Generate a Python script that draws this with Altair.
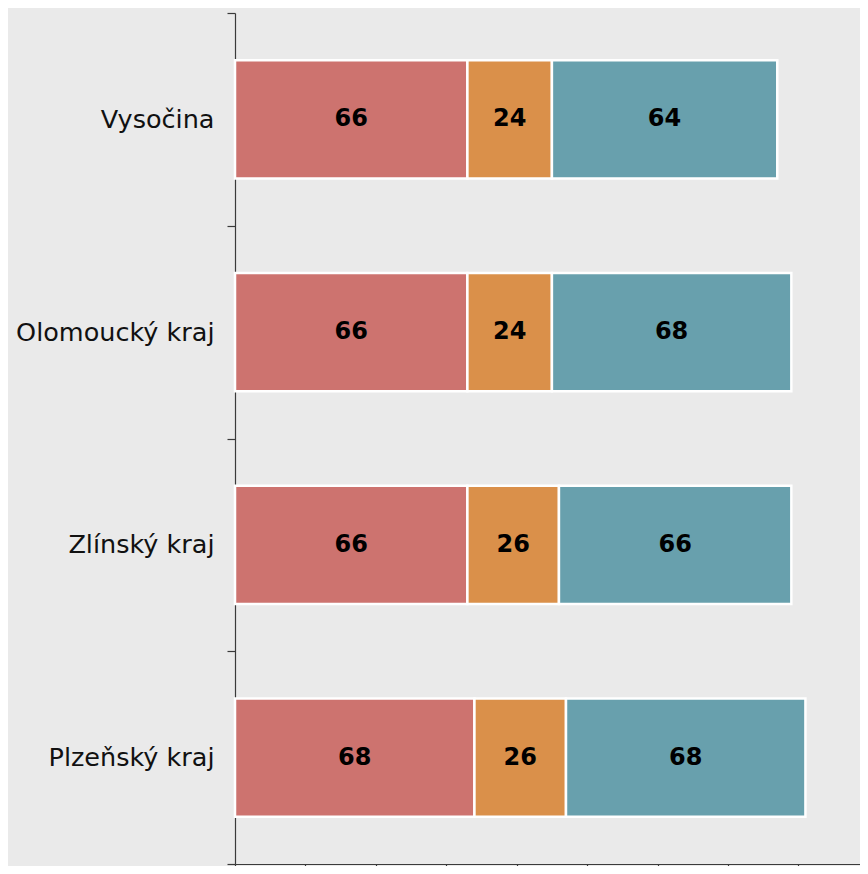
import altair as alt
import pandas as pd

regions = ["Vysočina", "Olomoucký kraj", "Zlínský kraj", "Plzeňský kraj"]
series = ["A", "B", "C"]
values_a = [66, 66, 66, 68]
values_b = [24, 24, 26, 26]
values_c = [64, 68, 66, 68]
colors = ["#CD736F", "#DA904A", "#68A0AD"]
x_ticks = [0, 20, 40, 60, 80, 100, 120, 140, 160]

rows = []
for i, r in enumerate(regions):
    for j, (s, vals) in enumerate(zip(series, [values_a, values_b, values_c])):
        rows.append({"region": r, "series": s, "order": j, "value": vals[i]})
df = pd.DataFrame(rows)

FONT = "DejaVu Sans"
AXIS_COLOR = "#3a3a3a"

base = alt.Chart(df).transform_stack(
    stack="value", groupby=["region"], as_=["x0", "x1"],
    sort=[alt.SortField("order", order="ascending")]
).transform_calculate(mid="(datum.x0 + datum.x1) / 2")

y_scale = alt.Scale(paddingInner=0, paddingOuter=0)
y_axis = alt.Axis(
    tickBand="extent", tickSize=8, labelPadding=13, labelFontSize=25.5,
    labelFont=FONT, labelColor="#111111", domainColor=AXIS_COLOR,
    tickColor=AXIS_COLOR, domainWidth=1.2, tickWidth=1.2, labelLimit=400,
)
x_scale = alt.Scale(domain=[0, 177.5], nice=False, zero=True)
x_axis = alt.Axis(values=x_ticks, grid=False, tickSize=4, labels=False,
                  domainColor=AXIS_COLOR, tickColor=AXIS_COLOR,
                  domainWidth=1.2, tickWidth=1.2)

bars = base.mark_bar(stroke="white", strokeWidth=2.5,
                     height=alt.RelativeBandSize(0.555)).encode(
    y=alt.Y("region:N", sort=regions, title=None, scale=y_scale, axis=y_axis),
    x=alt.X("x0:Q", scale=x_scale, title=None, axis=x_axis),
    x2="x1:Q",
    color=alt.Color("series:N", scale=alt.Scale(domain=series, range=colors), legend=None),
)

labels = base.mark_text(font=FONT, fontSize=24, fontWeight="bold", color="black",
                        align="center", baseline="middle").encode(
    y=alt.Y("region:N", sort=regions, title=None, scale=y_scale, axis=y_axis),
    x=alt.X("mid:Q", scale=x_scale, title=None, axis=x_axis),
    text=alt.Text("value:Q", format=".0f"),
)

chart = alt.layer(bars, labels).properties(
    width=852, height=858, background="#EAEAEA",
    padding={"left": 7, "top": -7, "right": 0, "bottom": -3},
    autosize=alt.AutoSizeParams(type="fit", contains="padding"),
).configure_view(stroke=None)

chart.save("out.html", embed_options={"renderer": "svg", "actions": False})
